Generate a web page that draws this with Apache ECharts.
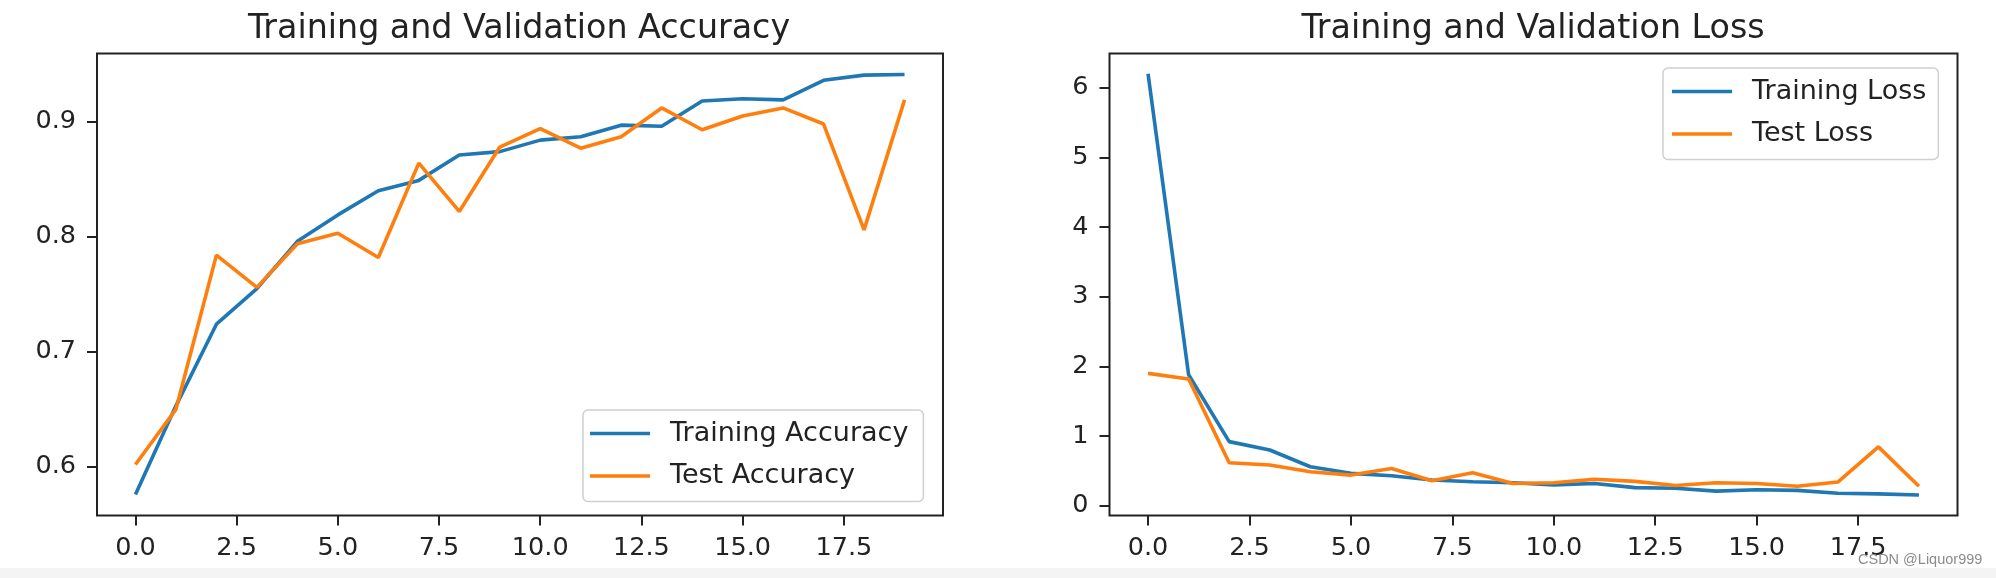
<!DOCTYPE html>
<html>
<head>
<meta charset="utf-8">
<script src="https://cdn.jsdelivr.net/npm/echarts@6/dist/echarts.min.js"></script>
<style>
  html, body { margin: 0; padding: 0; background: #fff; }
  #chart { width: 1996px; height: 578px; }
</style>
</head>
<body>
<div id="chart"></div>
<script>
// epochs 0..19
const epochs = [0, 1, 2, 3, 4, 5, 6, 7, 8, 9, 10, 11, 12, 13, 14, 15, 16, 17, 18, 19];
const trainAcc = [0.576, 0.653, 0.724, 0.755, 0.796, 0.819, 0.840, 0.849, 0.871, 0.874,
                  0.884, 0.887, 0.897, 0.896, 0.918, 0.920, 0.919, 0.936, 0.9405, 0.941];
const testAcc = [0.602, 0.650, 0.784, 0.756, 0.794, 0.803, 0.782, 0.864, 0.822, 0.878,
                 0.894, 0.877, 0.887, 0.912, 0.893, 0.905, 0.912, 0.898, 0.806, 0.919];
const trainLoss = [6.20, 1.88, 0.92, 0.80, 0.56, 0.465, 0.43, 0.37, 0.345, 0.33,
                   0.30, 0.32, 0.26, 0.25, 0.21, 0.23, 0.22, 0.18, 0.17, 0.155];
const testLoss = [1.90, 1.82, 0.617, 0.584, 0.488, 0.44, 0.535, 0.36, 0.474, 0.32,
                  0.33, 0.38, 0.35, 0.29, 0.33, 0.32, 0.28, 0.34, 0.845, 0.28];

const xTicks = [0, 2.5, 5, 7.5, 10, 12.5, 15, 17.5];
const accTicks = [0.6, 0.7, 0.8, 0.9];
const lossTicks = [0, 1, 2, 3, 4, 5, 6];

const BLUE = '#1f77b4';
const ORANGE = '#ff7f0e';
const INK = '#222';
const FONT = 'DejaVu Sans';

const chart = echarts.init(document.getElementById('chart'));

function pairs(ys) {
  return epochs.map((x, i) => [x, ys[i]]);
}

function xAxisFor(gridIndex) {
  return {
    type: 'value',
    gridIndex: gridIndex,
    position: 'bottom',
    min: -0.95,
    max: 19.95,
    splitLine: { show: false },
    axisLine: { show: false, onZero: false },
    axisTick: {
      show: true, length: 10, customValues: xTicks,
      lineStyle: { color: INK, width: 2 }
    },
    axisLabel: {
      customValues: xTicks, margin: 20,
      color: INK, fontSize: 25.5, fontFamily: FONT,
      formatter: v => v.toFixed(1)
    }
  };
}

function yAxisFor(gridIndex, min, max, ticks, fmt) {
  return {
    type: 'value',
    gridIndex: gridIndex,
    position: 'left',
    min: min,
    max: max,
    splitLine: { show: false },
    axisLine: { show: false, onZero: false },
    axisTick: {
      show: true, length: 10, customValues: ticks,
      lineStyle: { color: INK, width: 2 }
    },
    axisLabel: {
      customValues: ticks, margin: 21,
      color: INK, fontSize: 25.5, fontFamily: FONT,
      formatter: fmt
    }
  };
}

function lineSeries(name, data, color, idx) {
  return {
    name: name,
    type: 'line',
    xAxisIndex: idx,
    yAxisIndex: idx,
    data: pairs(data),
    symbol: 'none',
    lineStyle: { color: color, width: 3.6 },
    itemStyle: { color: color },
    animation: false
  };
}

// matplotlib-like legend: short line sample, text, light rounded frame
const legendBase = {
  orient: 'vertical',
  icon: 'rect',
  itemWidth: 60,
  itemHeight: 3.6,
  itemGap: 15.5,
  borderColor: '#d0d0d0',
  borderWidth: 1.5,
  borderRadius: 5,
  backgroundColor: '#fff',
  textStyle: {
    color: INK, fontSize: 27, fontFamily: FONT, lineHeight: 27,
    padding: [0, 0, 0, 15]
  }
};

const option = {
  animation: false,
  title: [
    {
      text: 'Training and Validation Accuracy',
      left: 514, top: 8, textAlign: 'center',
      textStyle: { color: INK, fontSize: 33.3, fontWeight: 'normal', fontFamily: FONT }
    },
    {
      text: 'Training and Validation Loss',
      left: 1528, top: 8, textAlign: 'center',
      textStyle: { color: INK, fontSize: 33.3, fontWeight: 'normal', fontFamily: FONT }
    }
  ],
  grid: [
    { left: 97, top: 53.5, width: 846, height: 462, show: true, borderColor: INK, borderWidth: 2, backgroundColor: 'transparent' },
    { left: 1109.5, top: 53.5, width: 848, height: 462, show: true, borderColor: INK, borderWidth: 2, backgroundColor: 'transparent' }
  ],
  xAxis: [xAxisFor(0), xAxisFor(1)],
  yAxis: [
    yAxisFor(0, 0.5577, 0.9593, accTicks, v => v.toFixed(1)),
    yAxisFor(1, -0.14, 6.49, lossTicks, v => String(Math.round(v)))
  ],
  legend: [
    Object.assign({}, legendBase, {
      data: ['Training Accuracy', 'Test Accuracy'],
      left: 583, top: 410,
      padding: [10, 15, 12, 7]
    }),
    Object.assign({}, legendBase, {
      data: ['Training Loss', 'Test Loss'],
      left: 1663, top: 68,
      padding: [10, 12, 12, 9]
    })
  ],
  series: [
    lineSeries('Training Accuracy', trainAcc, BLUE, 0),
    lineSeries('Test Accuracy', testAcc, ORANGE, 0),
    lineSeries('Training Loss', trainLoss, BLUE, 1),
    lineSeries('Test Loss', testLoss, ORANGE, 1)
  ],
  graphic: [
    {
      type: 'rect', left: 0, top: 568, z: -10, silent: true,
      shape: { width: 1996, height: 10 },
      style: { fill: '#f4f4f4' }
    },
    {
      type: 'text', left: 1858, top: 552, z: 100, silent: true,
      style: {
        text: 'CSDN @Liquor999',
        fill: '#8c8c8c',
        font: '14.5px "Liberation Sans"'
      }
    }
  ]
};

chart.setOption(option);
</script>
</body>
</html>
